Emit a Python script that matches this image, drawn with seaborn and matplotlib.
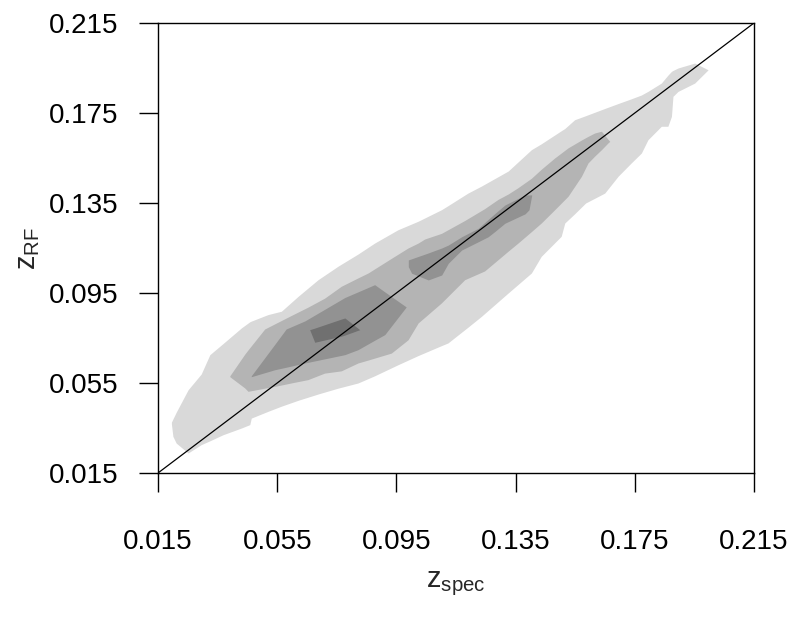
import matplotlib
matplotlib.use("Agg")
import matplotlib.pyplot as plt
import seaborn as sns

# ---- data (density contour bands along the 1:1 line) ----
ticks = [0.015, 0.055, 0.095, 0.135, 0.175, 0.215]
tick_labels = ["0.015", "0.055", "0.095", "0.135", "0.175", "0.215"]

# level 1 (lightest band)
light_x = [0.0195, 0.0200, 0.0211, 0.0251, 0.0295, 0.0324, 0.0368, 0.0430, 0.0458, 0.0463,
           0.0519, 0.0564, 0.0620, 0.0687, 0.0754, 0.0821, 0.0877, 0.0955, 0.1023, 0.1101,
           0.1123, 0.1190, 0.1235, 0.1325, 0.1403, 0.1436, 0.1503, 0.1515, 0.1548, 0.1585,
           0.1649, 0.1694, 0.1738, 0.1772, 0.1794, 0.1839, 0.1861, 0.1873, 0.1878, 0.1895,
           0.1951, 0.1996]
light_lo = [0.0368, 0.0313, 0.0283, 0.0239, 0.0276, 0.0293, 0.0320, 0.0350, 0.0365, 0.0394,
            0.0424, 0.0447, 0.0473, 0.0501, 0.0527, 0.0550, 0.0582, 0.0631, 0.0672, 0.0716,
            0.0728, 0.0798, 0.0846, 0.0950, 0.1039, 0.1113, 0.1202, 0.1261, 0.1302, 0.1350,
            0.1394, 0.1469, 0.1528, 0.1572, 0.1631, 0.1691, 0.1691, 0.1735, 0.1824, 0.1846,
            0.1883, 0.1942]
light_hi = [0.0376, 0.0390, 0.0420, 0.0520, 0.0590, 0.0676, 0.0725, 0.0795, 0.0822, 0.0825,
            0.0854, 0.0869, 0.0935, 0.1009, 0.1069, 0.1123, 0.1172, 0.1231, 0.1269, 0.1320,
            0.1338, 0.1394, 0.1425, 0.1492, 0.1587, 0.1613, 0.1671, 0.1681, 0.1720, 0.1738,
            0.1770, 0.1792, 0.1813, 0.1830, 0.1846, 0.1883, 0.1918, 0.1935, 0.1939, 0.1950,
            0.1972, 0.1942]

# level 2
med_x = [0.0391, 0.0441, 0.0452, 0.0508, 0.0542, 0.0600, 0.0653, 0.0709, 0.0765, 0.0821,
         0.0855, 0.0933, 0.0989, 0.1023, 0.1045, 0.1101, 0.1179, 0.1246, 0.1291, 0.1325,
         0.1358, 0.1403, 0.1436, 0.1481, 0.1526, 0.1571, 0.1593, 0.1615, 0.1638, 0.1660,
         0.1666]
med_lo = [0.0578, 0.0528, 0.0513, 0.0527, 0.0535, 0.0551, 0.0565, 0.0594, 0.0604, 0.0639,
          0.0652, 0.0683, 0.0742, 0.0817, 0.0842, 0.0906, 0.1009, 0.1048, 0.1098, 0.1136,
          0.1172, 0.1223, 0.1261, 0.1320, 0.1380, 0.1469, 0.1528, 0.1558, 0.1587, 0.1617,
          0.1624]
med_hi = [0.0582, 0.0678, 0.0697, 0.0790, 0.0813, 0.0852, 0.0887, 0.0927, 0.0980, 0.1017,
          0.1039, 0.1104, 0.1150, 0.1172, 0.1190, 0.1215, 0.1272, 0.1325, 0.1366, 0.1390,
          0.1418, 0.1460, 0.1500, 0.1550, 0.1595, 0.1630, 0.1646, 0.1661, 0.1669, 0.1633,
          0.1624]

# level 3 (two separate patches)
dark1_x = [0.0463, 0.0542, 0.0580, 0.0643, 0.0777, 0.0821, 0.0877, 0.0911, 0.0983]
dark1_lo = [0.0578, 0.0609, 0.0620, 0.0639, 0.0676, 0.0698, 0.0740, 0.0765, 0.0888]
dark1_hi = [0.0582, 0.0722, 0.0790, 0.0826, 0.0930, 0.0955, 0.0987, 0.0955, 0.0888]

dark2_x = [0.0990, 0.1001, 0.1057, 0.1069, 0.1102, 0.1124, 0.1169, 0.1225, 0.1258, 0.1281,
           0.1314, 0.1382, 0.1395, 0.1404]
dark2_lo = [0.1067, 0.1038, 0.1008, 0.1014, 0.1030, 0.1082, 0.1141, 0.1178, 0.1200, 0.1224,
            0.1260, 0.1302, 0.1320, 0.1384]
dark2_hi = [0.1097, 0.1102, 0.1128, 0.1134, 0.1150, 0.1163, 0.1200, 0.1238, 0.1277, 0.1304,
            0.1341, 0.1386, 0.1386, 0.1386]

# level 4 (darkest core)
core_x = [0.0659, 0.0676, 0.0765, 0.0777, 0.0827]
core_lo = [0.0787, 0.0731, 0.0758, 0.0763, 0.0787]
core_hi = [0.0787, 0.0794, 0.0834, 0.0839, 0.0787]

level_colors = ["#d9d9d9", "#b4b4b4", "#929292", "#707070"]

# ---- plotting ----
sns.set_style("ticks")
plt.rcParams['font.family'] = ['Liberation Sans', 'DejaVu Sans']
plt.rcParams['mathtext.fontset'] = 'custom'
plt.rcParams['mathtext.rm'] = 'Liberation Sans'

fig = plt.figure(figsize=(7.98, 6.31), dpi=100)
ax = fig.add_axes([158 / 798, (631 - 473) / 631, 596 / 798, 450 / 631])

bands = [
    (light_x, light_lo, light_hi, level_colors[0]),
    (med_x, med_lo, med_hi, level_colors[1]),
    (dark1_x, dark1_lo, dark1_hi, level_colors[2]),
    (dark2_x, dark2_lo, dark2_hi, level_colors[2]),
    (core_x, core_lo, core_hi, level_colors[3]),
]
for bx, blo, bhi, col in bands:
    ax.fill_between(bx, blo, bhi, color=col, linewidth=0, zorder=1)

lims = [ticks[0], ticks[-1]]
sns.lineplot(x=lims, y=lims, color="black", linewidth=0.9, ax=ax, zorder=3)

ax.set_xlim(lims)
ax.set_ylim(lims)
ax.set_xticks(ticks)
ax.set_xticklabels(tick_labels)
ax.set_yticks(ticks)
ax.set_yticklabels(tick_labels)
ax.tick_params(direction="out", length=13.5, width=1, colors="black",
               labelsize=20, labelcolor="black")
ax.tick_params(axis="x", pad=27)
ax.tick_params(axis="y", pad=15)
for sp in ax.spines.values():
    sp.set_visible(True)
    sp.set_color("black")
    sp.set_linewidth(1)
ax.set_facecolor("white")

ax.set_xlabel(r"$\mathregular{z_{spec}}$", fontsize=21)
ax.set_ylabel(r"$\mathregular{z_{RF}}$", fontsize=21)
ax.xaxis.set_label_coords(0.5, -0.215)
ax.yaxis.set_label_coords(-0.195, 0.5)

fig.savefig("out.png", dpi=100, facecolor="white")
